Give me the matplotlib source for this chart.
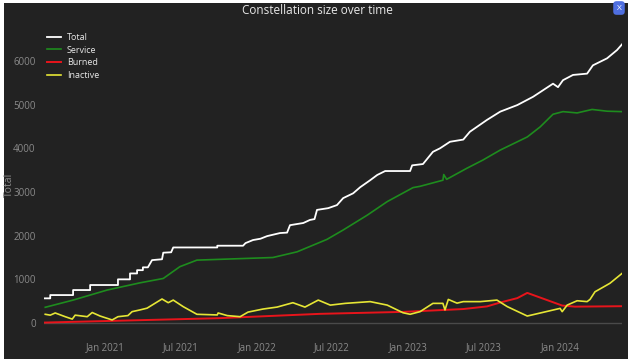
import numpy as np
import pandas as pd
import matplotlib
matplotlib.use("Agg")
import matplotlib.pyplot as plt
import matplotlib.dates as mdates
from matplotlib.patches import Rectangle

# ---- data ----
total_dates = [
    "2020-08-07", "2020-08-22", "2020-08-22", "2020-10-16", "2020-10-16", "2020-11-26",
    "2020-11-26", "2021-02-01", "2021-02-01", "2021-03-02", "2021-03-02", "2021-03-19",
    "2021-03-19", "2021-04-02", "2021-04-02", "2021-04-14", "2021-04-24", "2021-05-18",
    "2021-05-21", "2021-06-09", "2021-06-14", "2021-09-28", "2021-09-28", "2021-11-29",
    "2021-12-05", "2021-12-23", "2022-01-10", "2022-01-26", "2022-02-26", "2022-03-15",
    "2022-03-22", "2022-04-23", "2022-05-09", "2022-05-20", "2022-05-26", "2022-06-22",
    "2022-07-13", "2022-07-28", "2022-08-21", "2022-09-07", "2022-10-01", "2022-10-18",
    "2022-11-06", "2023-01-05", "2023-01-10", "2023-02-05", "2023-03-01", "2023-03-18",
    "2023-04-11", "2023-05-13", "2023-05-29", "2023-07-09", "2023-08-10", "2023-09-20",
    "2023-10-28", "2023-12-15", "2023-12-27", "2024-01-08", "2024-02-01", "2024-03-06",
    "2024-03-20", "2024-04-23", "2024-05-17", "2024-05-29",
]
total_vals = [
    565, 565, 640, 640, 755, 755,
    870, 870, 1000, 1000, 1135, 1135,
    1210, 1210, 1275, 1275, 1440, 1460,
    1610, 1620, 1730, 1730, 1770, 1770,
    1830, 1900, 1930, 1990, 2060, 2070,
    2240, 2290, 2360, 2380, 2590, 2630,
    2700, 2860, 2970, 3110, 3270, 3390,
    3480, 3480, 3610, 3640, 3920, 4000,
    4150, 4200, 4380, 4650, 4840, 4990,
    5180, 5480, 5400, 5560, 5680, 5710,
    5900, 6060, 6250, 6380,
]

service_dates = [
    "2020-08-10", "2020-10-16", "2021-01-06", "2021-03-26", "2021-05-21", "2021-06-30",
    "2021-08-10", "2022-02-09", "2022-04-08", "2022-06-19", "2022-07-28", "2022-09-24",
    "2022-11-11", "2023-01-12", "2023-01-29", "2023-03-25", "2023-03-27", "2023-04-03",
    "2023-05-21", "2023-06-29", "2023-08-10", "2023-10-14", "2023-11-14", "2023-12-15",
    "2024-01-08", "2024-02-11", "2024-03-18", "2024-04-23", "2024-05-29",
]
service_vals = [
    360, 525, 755, 920, 1020, 1290,
    1440, 1500, 1630, 1915, 2130, 2470,
    2780, 3100, 3130, 3270, 3400, 3290,
    3540, 3730, 3960, 4260, 4490, 4780,
    4840, 4810, 4890, 4850, 4840,
]

burned_dates = [
    "2020-08-07", "2021-09-30", "2022-06-02", "2022-12-19", "2023-05-13", "2023-07-09",
    "2023-08-10", "2023-09-20", "2023-10-14", "2024-01-06", "2024-02-06", "2024-05-29",
]
burned_vals = [10, 110, 210, 255, 320, 380, 470, 570, 690, 400, 375, 385]

inactive_dates = [
    "2020-08-10", "2020-08-22", "2020-09-03", "2020-09-27", "2020-10-14", "2020-10-21",
    "2020-11-19", "2020-12-01", "2020-12-20", "2021-01-18", "2021-02-01", "2021-02-25",
    "2021-03-07", "2021-03-26", "2021-04-12", "2021-05-18", "2021-06-02", "2021-06-14",
    "2021-07-08", "2021-08-10", "2021-09-28", "2021-09-30", "2021-10-22", "2021-11-22",
    "2021-12-11", "2022-01-16", "2022-02-19", "2022-03-29", "2022-04-27", "2022-05-29",
    "2022-06-27", "2022-08-02", "2022-10-01", "2022-11-11", "2022-12-19", "2023-01-05",
    "2023-01-29", "2023-03-01", "2023-03-25", "2023-03-30", "2023-04-07", "2023-04-28",
    "2023-05-13", "2023-06-23", "2023-08-02", "2023-08-27", "2023-10-14", "2024-01-01",
    "2024-01-06", "2024-01-18", "2024-02-11", "2024-03-06", "2024-03-13", "2024-03-25",
    "2024-04-30", "2024-05-29",
]
inactive_vals = [
    200, 180, 230, 145, 90, 180,
    145, 240, 160, 70, 145, 170,
    260, 300, 340, 550, 465, 525,
    375, 200, 185, 230, 170, 145,
    250, 320, 365, 465, 365, 525,
    410, 450, 490, 410, 235, 200,
    260, 450, 450, 300, 540, 455,
    490, 490, 525, 375, 160, 335,
    260, 410, 510, 490, 540, 715,
    910, 1135,
]

y_ticks = [0, 1000, 2000, 3000, 4000, 5000, 6000]

BG = "#222222"
W, H = 635, 364
plt.rcParams["font.family"] = ["Open Sans", "DejaVu Sans"]

fig = plt.figure(figsize=(W / 100, H / 100), dpi=100)
fig.patch.set_facecolor("white")
fig.add_artist(Rectangle((4 / W, 5 / H), 624 / W, 356 / H, transform=fig.transFigure,
                         facecolor=BG, edgecolor="none", zorder=-10))

ax = fig.add_axes([44 / W, 26 / H, 578 / W, 318 / H])
ax.set_facecolor(BG)
for s in ax.spines.values():
    s.set_visible(False)

series = [
    ("Total", total_dates, total_vals, "white", 1.3),
    ("Service", service_dates, service_vals, "#1e8c1e", 1.2),
    ("Burned", burned_dates, burned_vals, "#e8141b", 1.4),
    ("Inactive", inactive_dates, inactive_vals, "#e6e635", 1.2),
]
ax.axhline(0, color="#4a4a4a", lw=1, zorder=1)
for name, d, v, c, lw in series:
    ax.plot(pd.to_datetime(d), v, color=c, lw=lw, label=name, zorder=3)

ax.set_xlim(pd.Timestamp("2020-08-07"), pd.Timestamp("2024-05-29"))
ax.set_ylim(-343, 6938)
ax.set_yticks(y_ticks)
ax.set_yticklabels([str(t) for t in y_ticks])
ax.xaxis.set_major_locator(mdates.MonthLocator(bymonth=[1, 7]))
ax.xaxis.set_major_formatter(mdates.DateFormatter("%b %Y"))
ax.tick_params(axis="both", length=0, colors="#8a8a8a", labelsize=7)
ax.tick_params(axis="x", pad=3)
ax.tick_params(axis="y", pad=6)
ax.set_ylabel("Total", color="#8a8a8a", fontsize=7.5)
ax.yaxis.set_label_coords((15 - 44) / 578, (364 - 185 - 26) / 318)

fig.text(317 / W, 1 - 10 / H, "Constellation size over time", ha="center", va="center",
         color="#e8e8e8", fontsize=8.5)

leg = ax.legend(loc="upper left", bbox_to_anchor=(47 / W, 1 - 33 / H),
                bbox_transform=fig.transFigure, frameon=False, fontsize=6.5,
                labelcolor="#e8e8e8", handlelength=1.6, handletextpad=0.6,
                labelspacing=0.4, borderaxespad=0, borderpad=0)

fig.text(619 / W, 1 - 8 / H, "X", ha="center", va="center", color="white", fontsize=6,
         bbox=dict(boxstyle="round,pad=0.4", facecolor="#4f6fe0", edgecolor="none"))

fig.savefig("out.png", dpi=100, facecolor=fig.get_facecolor())
